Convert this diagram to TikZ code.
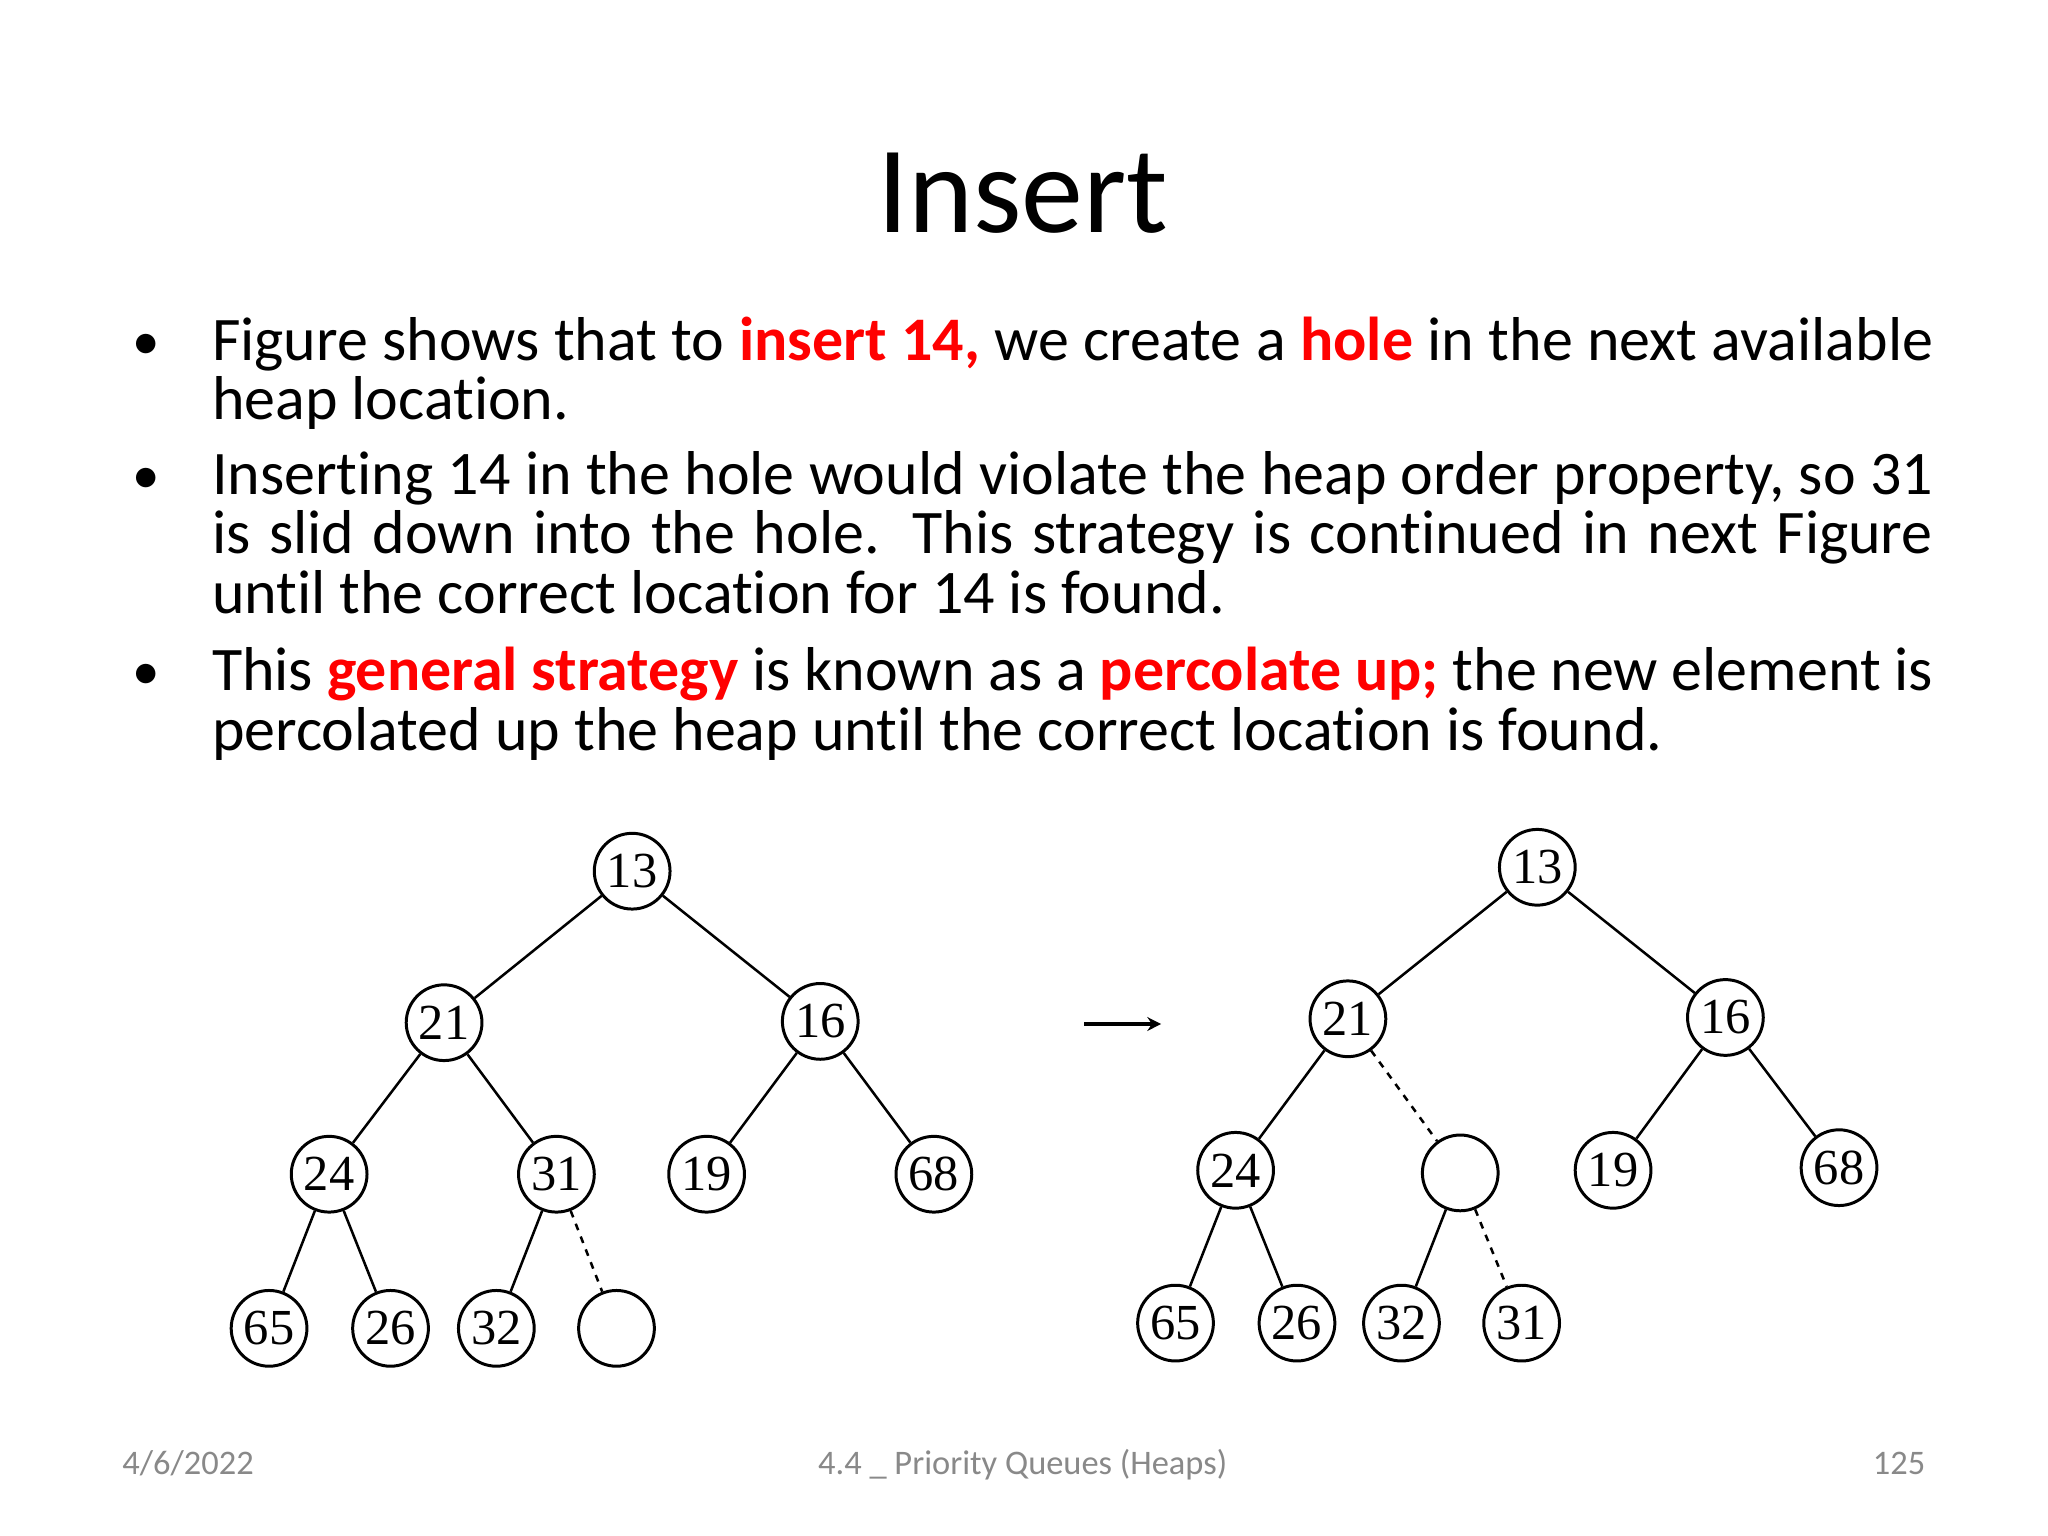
\documentclass[tikz,border=0pt]{standalone}
\usepackage{fontspec}
\setmainfont[Ligatures=NoCommon]{Carlito}
\newfontfamily\numfont{Liberation Serif}
\usetikzlibrary{arrows.meta}
\definecolor{hl}{RGB}{255,0,0}
\definecolor{foot}{RGB}{137,137,137}
\newcommand{\hlt}[1]{\textcolor{hl}{\textbf{#1}}}
\newcommand{\nohyph}{\hyphenpenalty=10000\relax\exhyphenpenalty=10000\relax}
\tikzset{x=0.02cm,y=-0.02cm,
 hn/.style={circle,draw,line width=1.3pt,minimum size=1.16cm,inner sep=0pt,font=\numfont\fontsize{22}{22}\selectfont},
 ed/.style={line width=1.1pt},
 hd/.style={line width=1.1pt,dash pattern=on 3pt off 3pt},
 para/.style={anchor=north west,inner sep=0pt,text width=26.36cm,align=justify,font=\fontsize{27}{26.1}\selectfont},
 bul/.style={anchor=base,inner sep=0pt,font=\fontsize{24}{26.6}\selectfont},
 ft/.style={text=foot,font=\fontsize{15}{18}\selectfont,inner sep=0pt,anchor=base}}
\begin{document}
\begin{tikzpicture}
\path[use as bounding box,fill=white] (0,0) rectangle (1568,1176);
\node[anchor=base,inner sep=0pt,font=\fontsize{54}{54}\selectfont] (title) at (783,178) {Insert};
\node[bul] (b1) at (112,275) {\textbullet};
\node[bul] (b2) at (112,378) {\textbullet};
\node[bul] (b3) at (112,528) {\textbullet};
\node[para] (p1) at (162,242) {\nohyph Figure shows that to \hlt{insert 14,} we create a \hlt{hole} in the next available heap location.};
\node[para] (p2) at (162,345) {\nohyph Inserting 14 in the hole would violate the heap order property, so 31 is slid down into the hole. This strategy is continued in next Figure until the correct location for 14 is found.};
\node[para] (p3) at (162,495) {\nohyph This \hlt{general strategy} is known as a \hlt{percolate up;} the new element is percolated up the heap until the correct location is found.};
% left tree
\node[hn] (a13) at (484,667) {13};
\node[hn] (a21) at (340,783) {21};
\node[hn] (a16) at (628,782) {16};
\node[hn] (a24) at (252,899) {24};
\node[hn] (a31) at (426,899) {31};
\node[hn] (a19) at (541,899) {19};
\node[hn] (a68) at (715,899) {68};
\node[hn] (a65) at (206,1017) {65};
\node[hn] (a26) at (299,1017) {26};
\node[hn] (a32) at (380,1017) {32};
\node[hn] (ah) at (472,1017) {};
\draw[ed] (a13)--(a21) (a13)--(a16) (a21)--(a24) (a21)--(a31) (a16)--(a19) (a16)--(a68) (a24)--(a65) (a24)--(a26) (a31)--(a32);
\draw[hd] (a31)--(ah);
% right tree
\node[hn] (b13) at (1177,664) {13};
\node[hn] (b21) at (1032,780) {21};
\node[hn] (b16) at (1321,779) {16};
\node[hn] (b24) at (946,896) {24};
\node[hn] (bh) at (1118,898) {};
\node[hn] (b19) at (1235,896) {19};
\node[hn] (b68) at (1408,894) {68};
\node[hn] (b65) at (900,1013) {65};
\node[hn] (b26) at (993,1013) {26};
\node[hn] (b32) at (1073,1013) {32};
\node[hn] (b31) at (1165,1013) {31};
\draw[ed] (b13)--(b21) (b13)--(b16) (b21)--(b24) (b16)--(b19) (b16)--(b68) (b24)--(b65) (b24)--(b26) (bh)--(b32);
\draw[hd] (b21)--(bh) (bh)--(b31);
\coordinate (ar1) at (830,784);
\coordinate (ar2) at (889,784);
\draw[line width=1.8pt,-{Stealth[length=6pt,width=6pt]}] (ar1)--(ar2);
% footer
\node[ft] (f1) at (144,1129) {4/6/2022};
\node[ft] (f2) at (783,1129) {4.4 \_ Priority Queues (Heaps)};
\node[ft] (f3) at (1454,1129) {125};
\end{tikzpicture}
\end{document}
